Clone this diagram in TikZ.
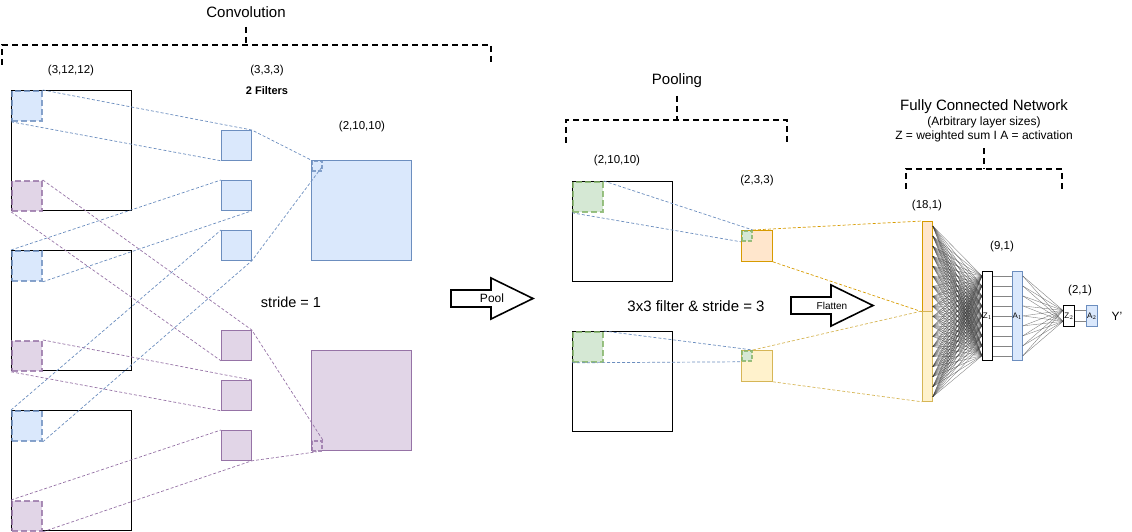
\documentclass[tikz,border=0pt]{standalone}
\usepackage{fontspec}
\setmainfont{Liberation Sans}
\usetikzlibrary{positioning,calc,arrows.meta}

\begin{document}
\begin{tikzpicture}[x=1pt, y=-1pt,
    title/.style={font=\fontsize{15}{18}\selectfont},
    lbl/.style={font=\fontsize{11.5}{14}\selectfont},
    bigsq/.style={draw=black, fill=white, line width=0.8pt, minimum size=#1, inner sep=0pt, anchor=north west},
    cell/.style 2 args={draw=#1, fill=#2, line width=0.8pt, minimum size=30pt, inner sep=0pt, anchor=north west},
    patch/.style n args={3}{draw=#1, fill=#2, draw opacity=0.8, line width=1.8pt, dash pattern=on 6pt off 3pt, minimum size=#3, inner sep=0pt, anchor=north west},
    link/.style={draw=#1, line width=0.7pt, dash pattern=on 3pt off 2pt},
    bracket/.style={draw=black, line width=1.5pt, dash pattern=on 6pt off 4pt},
    bigarrow/.style={draw=black, fill=white, line width=1.6pt, line join=miter},
    col/.style n args={4}{draw=#1, fill=#2, line width=0.8pt, minimum width=#3, minimum height=#4, inner sep=0pt, anchor=north west},
    wire/.style={draw=black!80, line width=0.4pt, opacity=0.6}]
    % Palette
    \definecolor{blueFill}{HTML}{DAE8FC}
    \definecolor{blueBorder}{HTML}{6C8EBF}
    \definecolor{purpleFill}{HTML}{E1D5E7}
    \definecolor{purpleBorder}{HTML}{9673A6}
    \definecolor{greenFill}{HTML}{D5E8D4}
    \definecolor{greenBorder}{HTML}{82B366}
    \definecolor{orangeFill}{HTML}{FFE6CC}
    \definecolor{orangeBorder}{HTML}{D79B00}
    \definecolor{yellowFill}{HTML}{FFF2CC}
    \definecolor{yellowBorder}{HTML}{D6B656}

    \useasboundingbox (0,0) rectangle (1132,532);

    % --- Convolution ---
    \node[title] (convTitle) at (246,12) {Convolution};
    \draw[bracket] (246,27) -- (246,45);
    \draw[bracket] (2,65) -- (2,45) -- (491,45) -- (491,65);

    \node[lbl] (inLbl) at (71,71) {(3,12,12)};
    \node[lbl] (filtLbl) at (267,71) {(3,3,3)};
    \node[font=\fontsize{11}{13}\selectfont\bfseries] (filtNum) at (267,91) {2 Filters};
    \node[lbl] (outLbl) at (362,127) {(2,10,10)};
    \node[font=\fontsize{14.5}{17}\selectfont] (strideA) at (291,302) {stride = 1};

    % input channels
    \node[bigsq=120pt] (in1) at (11,90) {};
    \node[bigsq=120pt] (in2) at (11,250) {};
    \node[bigsq=120pt] (in3) at (11,410) {};
    \node[patch={blueBorder}{blueFill}{30pt}] (inb1) at (11,90) {};
    \node[patch={blueBorder}{blueFill}{30pt}] (inb2) at (11,250) {};
    \node[patch={blueBorder}{blueFill}{30pt}] (inb3) at (11,410) {};
    \node[patch={purpleBorder}{purpleFill}{30pt}] (inp1) at (11,180) {};
    \node[patch={purpleBorder}{purpleFill}{30pt}] (inp2) at (11,340) {};
    \node[patch={purpleBorder}{purpleFill}{30pt}] (inp3) at (11,500) {};

    % filters
    \node[cell={blueBorder}{blueFill}] (fb1) at (221,130) {};
    \node[cell={blueBorder}{blueFill}] (fb2) at (221,180) {};
    \node[cell={blueBorder}{blueFill}] (fb3) at (221,230) {};
    \node[cell={purpleBorder}{purpleFill}] (fp1) at (221,330) {};
    \node[cell={purpleBorder}{purpleFill}] (fp2) at (221,380) {};
    \node[cell={purpleBorder}{purpleFill}] (fp3) at (221,430) {};

    % feature maps
    \node[cell={blueBorder}{blueFill}, minimum size=100pt] (outb) at (311,160) {};
    \node[cell={purpleBorder}{purpleFill}, minimum size=100pt] (outp) at (311,350) {};
    \node[patch={blueBorder}{blueFill}{10pt}, dash pattern=on 4pt off 2pt] (outbs) at (311,160) {};
    \node[patch={purpleBorder}{purpleFill}{10pt}, dash pattern=on 4pt off 2pt] (outps) at (311,440) {};

    % blue filter links
    \draw[link=blueBorder] (inb1.north east) -- (fb1.north east) -- (outbs.north west);
    \draw[link=blueBorder] (inb1.south west) -- (fb1.south west);
    \draw[link=blueBorder] (inb2.north west) -- (fb2.north west);
    \draw[link=blueBorder] (inb2.south east) -- (fb2.south east);
    \draw[link=blueBorder] (inb3.north west) -- (fb3.north west);
    \draw[link=blueBorder] (inb3.south east) -- (fb3.south east) -- (outbs.east);
    % purple filter links
    \draw[link=purpleBorder] (inp1.north east) -- (fp1.north east) -- (outps.north east);
    \draw[link=purpleBorder] (inp1.south west) -- (fp1.south west);
    \draw[link=purpleBorder] (inp2.north east) -- (fp2.north east);
    \draw[link=purpleBorder] (inp2.south west) -- (fp2.south west);
    \draw[link=purpleBorder] (inp3.north west) -- (fp3.north west);
    \draw[link=purpleBorder] (inp3.south east) -- (fp3.south east) -- (outps.south);

    % Pool arrow
    \draw[bigarrow] (451,290) -- (491,290) -- (491,278) -- (533,298.5) -- (491,319) -- (491,307) -- (451,307) -- cycle;
    \node[font=\fontsize{12}{14}\selectfont] (poolTxt) at (492,298.5) {Pool};

    % --- Pooling ---
    \node[title] (poolTitle) at (677,81) {Pooling};
    \draw[bracket] (677,96) -- (677,120);
    \draw[bracket] (566,143) -- (566,120) -- (787,120) -- (787,143);

    \node[lbl] (poolInLbl) at (617,161) {(2,10,10)};
    \node[lbl] (poolOutLbl) at (757,181) {(2,3,3)};
    \node[title] (strideB) at (696,306) {3x3 filter \& stride = 3};

    \node[bigsq=100pt] (pool1) at (572,181) {};
    \node[bigsq=100pt] (pool2) at (572,331) {};
    \node[patch={greenBorder}{greenFill}{30pt}] (poolg1) at (572,181) {};
    \node[patch={greenBorder}{greenFill}{30pt}] (poolg2) at (572,331) {};

    \node[cell={orangeBorder}{orangeFill}, minimum size=31pt] (po1) at (741,230) {};
    \node[cell={yellowBorder}{yellowFill}, minimum size=31pt] (po2) at (741,350) {};
    \node[patch={greenBorder}{greenFill}{10pt}, dash pattern=on 4pt off 2pt] (pog1) at (741,230) {};
    \node[patch={greenBorder}{greenFill}{10pt}, dash pattern=on 4pt off 2pt] (pog2) at (741,350) {};

    \draw[link=blueBorder] (poolg1.north east) -- (pog1.north east);
    \draw[link=blueBorder] (poolg1.south west) -- (pog1.south west);
    \draw[link=blueBorder] (poolg2.north east) -- (pog2.north east);
    \draw[link=blueBorder] (poolg2.south west) -- (pog2.south west);

    % Flatten arrow
    \draw[bigarrow] (791,297) -- (831,297) -- (831,285) -- (873,305.5) -- (831,326) -- (831,314) -- (791,314) -- cycle;
    \node[font=\fontsize{10}{12}\selectfont] (flatTxt) at (832,305.5) {Flatten};

    % --- Fully Connected Network ---
    \node[title] (fcTitle) at (984,107) {Fully Connected Network};
    \node[font=\fontsize{12}{14}\selectfont] (fcSub) at (984,122) {(Arbitrary layer sizes)};
    \node[font=\fontsize{12}{14}\selectfont] (fcKey) at (984,136) {Z = weighted sum I A = activation};
    \draw[bracket] (984,148) -- (984,169);
    \draw[bracket] (906,189) -- (906,169) -- (1062,169) -- (1062,189);

    \node[lbl] (fcInLbl) at (927,206) {(18,1)};
    \node[lbl] (hidLbl) at (1002,247) {(9,1)};
    \node[lbl] (outLblB) at (1080,291) {(2,1)};

    \node[col={orangeBorder}{orangeFill}{10pt}{90pt}] (fc1) at (922,221) {};
    \node[col={yellowBorder}{yellowFill}{10pt}{90pt}] (fc2) at (922,311) {};

    \draw[link=orangeBorder] (pog1.north east) -- (fc1.north west);
    \draw[link=orangeBorder] (po1.south east) -- (fc1.south west);
    \draw[link=yellowBorder] (pog2.north east) -- (fc2.north west);
    \draw[link=yellowBorder] (po2.south east) -- (fc2.south west);

    \node[col={black}{white}{10pt}{89pt}] (z1) at (982,271) {};
    \node[col={blueBorder}{blueFill}{10pt}{89pt}] (a1) at (1012,271) {};
    \node[col={black}{white}{11pt}{21pt}] (z2) at (1063,305) {};
    \node[col={blueBorder}{blueFill}{11pt}{21pt}] (a2) at (1086,305) {};

    % weights
    \foreach \i in {1,...,18} {
        \foreach \j in {1,...,9} {
            \draw[wire] ($(fc1.north east)!{(\i-0.5)/18}!(fc2.south east)$) -- ($(z1.north west)!{(\j-0.5)/9}!(z1.south west)$);
        }
    }
    \foreach \j in {1,...,9} {
        \draw[wire] ($(z1.north east)!{(\j-0.5)/9}!(z1.south east)$) -- ($(a1.north west)!{(\j-0.5)/9}!(a1.south west)$);
        \foreach \k in {1,2} {
            \draw[wire] ($(a1.north east)!{(\j-0.5)/9}!(a1.south east)$) -- ($(z2.north west)!{(\k-0.5)/2}!(z2.south west)$);
        }
    }
    \foreach \k in {1,2} {
        \draw[wire] ($(z2.north east)!{(\k-0.5)/2}!(z2.south east)$) -- ($(a2.north west)!{(\k-0.5)/2}!(a2.south west)$);
    }

    \node[font=\fontsize{8}{9}\selectfont, inner sep=0pt] (z1Txt) at (z1.center) {Z$_1$};
    \node[font=\fontsize{8}{9}\selectfont, inner sep=0pt] (a1Txt) at (a1.center) {A$_1$};
    \node[font=\fontsize{8}{9}\selectfont, inner sep=0pt] (z2Txt) at (z2.center) {Z$_2$};
    \node[font=\fontsize{8}{9}\selectfont, inner sep=0pt] (a2Txt) at (a2.center) {A$_2$};
    \node[font=\fontsize{12}{14}\selectfont] (yTxt) at (1117,316) {Y'};

\end{tikzpicture}
\end{document}
